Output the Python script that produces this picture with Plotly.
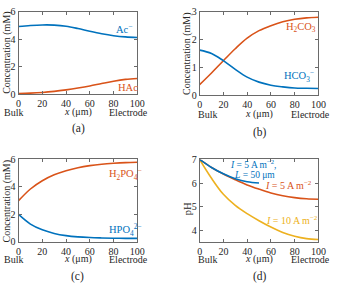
import plotly.graph_objects as go

# ---------------- data ----------------
x_pos = [0, 10, 20, 30, 40, 50, 60, 70, 80, 90, 100]
x_half = [0, 10, 20, 30, 40, 50]

ac_minus = [4.93, 5.00, 5.04, 5.03, 4.95, 4.78, 4.58, 4.40, 4.26, 4.17, 4.13]
hac = [0.05, 0.08, 0.13, 0.21, 0.32, 0.45, 0.60, 0.78, 0.95, 1.08, 1.15]

h2co3 = [0.38, 0.80, 1.24, 1.67, 2.05, 2.32, 2.50, 2.64, 2.73, 2.78, 2.80]
hco3 = [1.62, 1.50, 1.24, 0.93, 0.65, 0.47, 0.36, 0.30, 0.26, 0.25, 0.24]

h2po4 = [3.00, 3.85, 4.45, 4.88, 5.18, 5.40, 5.55, 5.65, 5.72, 5.77, 5.80]
hpo4 = [2.00, 1.30, 0.88, 0.62, 0.46, 0.37, 0.32, 0.29, 0.27, 0.26, 0.26]

ph_i5_l50 = [7.00, 6.66, 6.39, 6.18, 6.05, 6.00]
ph_i5 = [7.00, 6.66, 6.38, 6.14, 5.92, 5.74, 5.58, 5.46, 5.38, 5.33, 5.31]
ph_i10 = [7.00, 6.20, 5.52, 5.05, 4.70, 4.40, 4.13, 3.90, 3.74, 3.64, 3.60]

x_ticks = [0, 20, 40, 60, 80, 100]
conc_ticks_a = [0, 2, 4, 6]
conc_ticks_b = [0, 1, 2, 3]
ph_ticks = [4, 5, 6, 7]

# ---------------- style ----------------
BLUE = "#0072BD"
RED = "#D95319"
YELLOW = "#EDB120"
TXT = "#262626"
FONT = "Liberation Serif"
W, H = 340, 293


def pxx(x):
    return x / W


def pxy(y):
    return 1 - y / H


fig = go.Figure()


def line(x, y, color, xa, ya):
    fig.add_trace(go.Scatter(x=x, y=y, mode="lines", xaxis=xa, yaxis=ya,
                             line=dict(color=color, width=1.6, shape="spline"),
                             showlegend=False, hoverinfo="skip"))


line(x_pos, ac_minus, BLUE, "x", "y")
line(x_pos, hac, RED, "x", "y")
line(x_pos, h2co3, RED, "x2", "y2")
line(x_pos, hco3, BLUE, "x2", "y2")
line(x_pos, h2po4, RED, "x3", "y3")
line(x_pos, hpo4, BLUE, "x3", "y3")
line(x_pos, ph_i10, YELLOW, "x4", "y4")
line(x_pos, ph_i5, RED, "x4", "y4")
line(x_half, ph_i5_l50, BLUE, "x4", "y4")

axis_common = dict(showline=True, mirror="ticks", linecolor="#6a6a6a", linewidth=1,
                   ticks="inside", ticklen=3, tickcolor="#6a6a6a", showgrid=False,
                   zeroline=False, tickfont=dict(family=FONT, size=10, color=TXT))


def xax(left, right, anchor):
    return dict(axis_common, domain=[pxx(left), pxx(right)], range=[0, 100],
                tickvals=x_ticks, anchor=anchor)


def yax(top, bottom, rng, ticks, anchor):
    return dict(axis_common, domain=[pxy(bottom), pxy(top)], range=rng,
                tickvals=ticks, anchor=anchor)


fig.update_layout(
    width=W, height=H, margin=dict(l=0, r=0, t=0, b=0),
    paper_bgcolor="white", plot_bgcolor="white",
    xaxis=xax(17, 139, "y"),
    yaxis=yax(6, 92, [0, 6], conc_ticks_a, "x"),
    xaxis2=xax(203, 325, "y2"),
    yaxis2=yax(6, 93, [0, 3], conc_ticks_b, "x2"),
    xaxis3=xax(17, 139, "y3"),
    yaxis3=yax(160, 246, [0, 6], conc_ticks_a, "x3"),
    xaxis4=xax(203, 325, "y4"),
    yaxis4=yax(160, 246, [3.5, 7], ph_ticks, "x4"),
)

ann = []


def ptext(text, x, y, size=10, angle=0, color=TXT):
    ann.append(dict(text=text, x=pxx(x), y=pxy(y), xref="paper", yref="paper",
                    showarrow=False, xanchor="center", yanchor="middle",
                    textangle=angle, borderpad=0,
                    font=dict(family=FONT, size=size, color=color)))


def dtext(text, x, y, xa, ya, color, size=10.5):
    ann.append(dict(text=text, x=x, y=y, xref=xa, yref=ya, showarrow=False,
                    xanchor="center", yanchor="middle", borderpad=0,
                    font=dict(family=FONT, size=size, color=color)))


# bottom labels
for (bx, xl, ex, ty, cap, cy, lab) in [
    (12, 78, 130, 111, 79, 128, "(a)"),
    (211, 264, 317, 113, 265, 132, "(b)"),
    (12, 78, 130, 264, 78, 282, "(c)"),
    (211, 264, 317, 264, 265, 282, "(d)"),
]:
    ptext("Bulk", bx, ty)
    ptext("<i>x</i> (μm)", xl, ty)
    ptext("Electrode", ex, ty)
    ptext(lab, cap, cy, size=11.5)

ptext("Concentration (mM)", 5, 49, size=10, angle=-90)
ptext("Concentration (mM)", 190, 50, size=10, angle=-90)
ptext("Concentration (mM)", 5, 204, size=10, angle=-90)
ptext("pH", 190, 211, size=10.5, angle=-90)

dtext("Ac<sup>−</sup>", 89, 4.75, "x", "y", BLUE)
dtext("HAc", 92.5, 0.49, "x", "y", RED)
dtext("H<sub>2</sub>CO<sub>3</sub>", 85, 2.45, "x2", "y2", RED)
dtext("HCO<sub>3</sub><sup>−</sup>", 84, 0.69, "x2", "y2", BLUE)
dtext("H<sub>2</sub>PO<sub>4</sub><sup>−</sup>", 90, 4.95, "x3", "y3", RED)
dtext("HPO<sub>4</sub><sup>2−</sup>", 90, 0.9, "x3", "y3", BLUE)
dtext("<i>I</i> = 5 A m<sup>−2</sup>,", 45, 6.8, "x4", "y4", BLUE, size=9.5)
dtext("<i>L</i> = 50 μm", 46, 6.32, "x4", "y4", BLUE, size=9.5)
dtext("<i>I</i> = 5 A m<sup>−2</sup>", 75, 5.9, "x4", "y4", RED, size=10)
dtext("<i>I</i> = 10 A m<sup>−2</sup>", 78, 4.42, "x4", "y4", YELLOW, size=10)

fig.update_layout(annotations=ann)
fig.write_html("out.html",
               config={"displayModeBar": False},
               post_script="document.body.style.margin='0';document.body.style.padding='0';")
